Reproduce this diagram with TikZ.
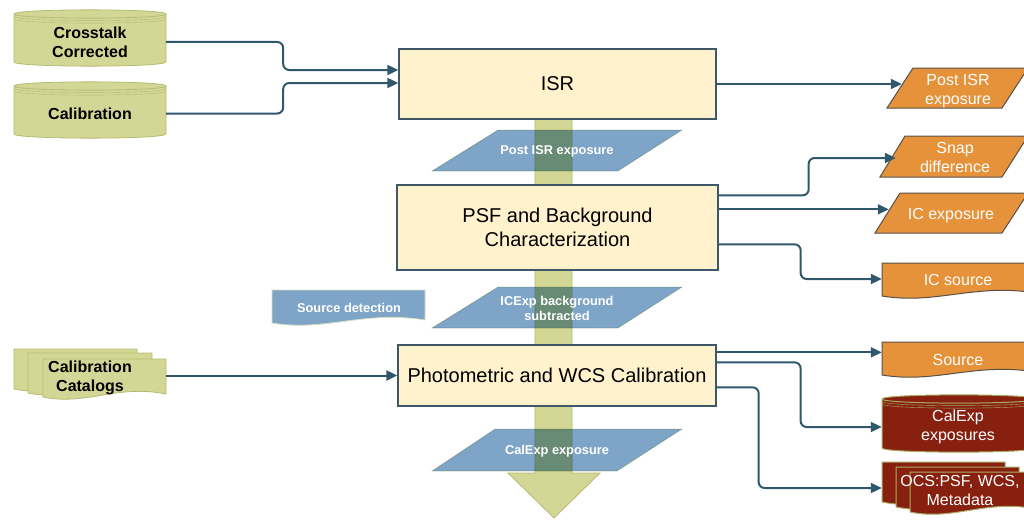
\documentclass[tikz,border=0pt]{standalone}
\usepackage{fontspec}
\setmainfont{Liberation Sans}
\usetikzlibrary{arrows.meta,calc}
\definecolor{oliveF}{RGB}{211,215,150}
\definecolor{oliveD}{RGB}{182,188,112}
\definecolor{boxF}{RGB}{255,242,204}
\definecolor{boxD}{RGB}{62,88,104}
\definecolor{connC}{RGB}{48,88,108}
\definecolor{blueF}{RGB}{126,165,200}
\definecolor{blueD}{RGB}{214,222,190}
\definecolor{orangeF}{RGB}{230,146,58}
\definecolor{orangeD}{RGB}{88,80,72}
\definecolor{redF}{RGB}{136,32,15}
\definecolor{redD}{RGB}{168,172,100}
\newcommand\fmain{\fontsize{20}{24}\selectfont}
\newcommand\fdb{\fontsize{16}{19}\selectfont\bfseries}
\newcommand\fout{\fontsize{16}{19}\selectfont}
\newcommand\fblue{\fontsize{12.8}{15}\selectfont\bfseries}
% cylinder: x1 x2 ytop ybottom style
\newcommand\cylshape[5]{%
  \path[#5] (#1,#3) -- (#1,#4) .. controls (#1,{#4+5.5}) and (#2,{#4+5.5}) .. (#2,#4)
     -- (#2,#3) .. controls (#2,{#3-5.5}) and (#1,{#3-5.5}) .. (#1,#3) -- cycle;
  \path[draw,#5,fill=none] (#1,#3) .. controls (#1,{#3+5.5}) and (#2,{#3+5.5}) .. (#2,#3);
  \path[draw,#5,fill=none,line width=0.4pt] (#1,{#3+2.5}) .. controls (#1,{#3+8}) and (#2,{#3+8}) .. (#2,{#3+2.5});
  \path[draw,#5,fill=none,line width=0.4pt] (#1,{#3+5}) .. controls (#1,{#3+10.5}) and (#2,{#3+10.5}) .. (#2,{#3+5});
}
% document: x1 x2 ytop ybottom style
\newcommand\docshape[5]{%
  \path[#5] (#1,#3) -- (#2,#3) -- (#2,{#4-3})
     .. controls ({#1+0.6*(#2-#1)},{#4-13}) and ({#1+0.35*(#2-#1)},{#4+9}) .. (#1,#4) -- cycle;
}
% parallelogram: xbl xtl xtr xbr ytop ybottom style
\newcommand\parashape[7]{%
  \path[#7] (#1,#6) -- (#2,#5) -- (#3,#5) -- (#4,#6) -- cycle;
}
\tikzset{
  txt/.style={inner sep=0pt, align=center},
  procbox/.style={draw=boxD, fill=boxF, line width=1.3pt, inner sep=0pt, align=center, font=\fmain},
  conn/.style={draw=connC, line width=2pt, rounded corners=6pt, -{Triangle[length=11pt,width=10pt]}},
  olivest/.style={fill=oliveF, draw=oliveD, line width=0.8pt},
  orangest/.style={fill=orangeF, draw=orangeD, line width=1pt},
  redst/.style={fill=redF, draw=redD, line width=1pt},
  bluest/.style={fill=blueF, draw=blueD, line width=0.8pt},
}
\begin{document}
\begin{tikzpicture}[x=1pt,y=-1pt]
\path[use as bounding box] (0,0) rectangle (1024,519);
\clip (0,0) rectangle (1024,519);
% central flow arrow
\path[olivest] (535,100) -- (535,473) -- (508,473) -- (554,518) -- (600,473) -- (572,473) -- (572,100) -- cycle;
% process boxes
\node[procbox, minimum width=317pt, minimum height=70pt] (isr) at (557.5,84) {ISR};
\node[procbox, minimum width=321pt, minimum height=85pt] (psf) at (557.5,227.5) {PSF and Background\\Characterization};
\node[procbox, minimum width=318pt, minimum height=61pt] (phot) at (557,375.5) {Photometric and WCS Calibration};
% blue data items over the flow
\begin{scope}[blend mode=multiply]
\parashape{432}{498}{682}{618}{130}{171}{bluest}
\parashape{432}{498}{682}{618}{287}{328}{bluest}
\parashape{432}{495}{682}{617}{429}{471}{bluest}
\end{scope}
\node[txt, text=white, font=\fblue] (bpisr) at (557,151.5) {Post ISR exposure};
\node[txt, text=white, font=\fblue] (bicexp) at (557,308) {ICExp background\\subtracted};
\node[txt, text=white, font=\fblue] (bcal) at (557,451.5) {CalExp exposure};
\docshape{272}{425}{290}{323}{bluest}
\node[txt, text=white, font=\fblue] (srcdet) at (349,307.5) {Source detection};
% left inputs
\cylshape{14}{166}{14}{62}{olivest}
\node[txt, font=\fdb, minimum width=152pt] (ct) at (90,42) {Crosstalk\\Corrected};
\cylshape{14}{166}{86}{134}{olivest}
\node[txt, font=\fdb, minimum width=152pt] (cal) at (90,113.5) {Calibration};
\docshape{14}{137}{349}{389}{olivest}
\docshape{28}{152}{353}{393}{olivest}
\docshape{43}{166}{359}{397}{olivest}
\node[txt, font=\fdb, minimum width=152pt] (catl) at (90,378) {Calibration\\Catalogs};
% right outputs
\parashape{887}{913}{1028}{1002}{68}{108}{orangest}
\node[txt, text=white, font=\fout, minimum width=112pt] (pisr) at (958,91) {Post ISR\\exposure};
\parashape{880}{905}{1028}{1002}{136}{177}{orangest}
\node[txt, text=white, font=\fout, minimum width=118pt] (snap) at (955,157) {Snap\\difference};
\parashape{875}{900}{1028}{1002}{193}{233}{orangest}
\node[txt, text=white, font=\fout, minimum width=124pt] (icexp) at (951,216) {IC exposure};
\docshape{882}{1036}{263}{296}{orangest}
\node[txt, text=white, font=\fout, minimum width=152pt] (icsrc) at (958,280) {IC source};
\docshape{882}{1036}{342}{375}{orangest}
\node[txt, text=white, font=\fout, minimum width=152pt] (src) at (958,360) {Source};
\cylshape{882}{1036}{399}{448}{redst}
\node[txt, text=white, font=\fout, minimum width=152pt] (calexp) at (958,427) {CalExp\\exposures};
\docshape{882}{1005}{462}{502}{redst}
\docshape{896}{1019}{467}{507}{redst}
\docshape{910}{1036}{472}{512}{redst}
\node[txt, text=white, font=\fout, minimum width=156pt] (ocs) at (960,490) {OCS:PSF, WCS,\\Metadata};
% connectors
\draw[conn] (ct.east) -- ++(117,0) |- ($(isr.west)+(0,-14)$);
\draw[conn] (cal.east) -- ++(117,0) |- ($(isr.west)+(0,-1)$);
\draw[conn] (isr.east) coordinate (s1) -- (s1 -| pisr.west);
\draw[conn] ($(psf.north east)+(0,11)$) -- ++(90,0) |- ($(snap.west)+(0,1)$);
\draw[conn] ($(psf.north east)+(0,25)$) coordinate (s2) -- (s2 -| icexp.west);
\draw[conn] ($(psf.north east)+(0,60)$) -- ++(82,0) |- ($(icsrc.west)+(0,-1)$);
\draw[conn] (phot.west -| catl.east) -- (phot.west);
\draw[conn] ($(phot.north east)+(0,8)$) coordinate (s3) -- (s3 -| src.west);
\draw[conn] ($(phot.north east)+(0,18)$) -- ++(84,0) |- (calexp.west);
\draw[conn] ($(phot.north east)+(0,43)$) -- ++(42,0) |- ($(ocs.west)+(0,-2)$);
\end{tikzpicture}
\end{document}
